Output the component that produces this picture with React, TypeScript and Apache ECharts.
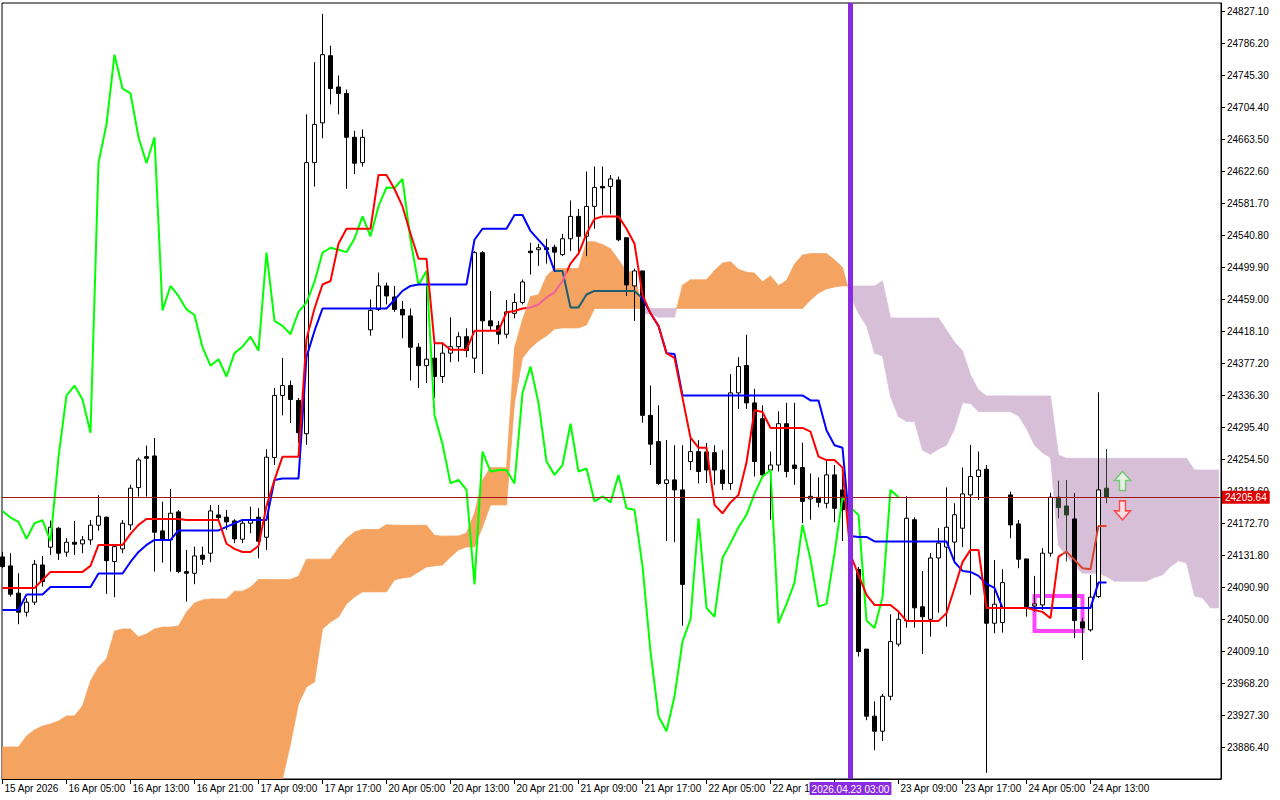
import React, { useEffect, useRef } from 'react';
import * as echarts from 'echarts';

// ---------- data (H1 bars, index 0 = first visible bar) ----------
const openP = [
  24129.3, 24117.9, 24083.0, 24058.7, 24071.5, 24119.1, 24141.8, 24166.0, 24135.4, 24148.1,
  24146.0, 24151.1, 24169.9, 24180.1, 24123.4, 24139.6, 24170.3, 24217.9, 24257.5, 24258.4,
  24162.6, 24151.1, 24186.9, 24110.6, 24108.5, 24131.5, 24134.1, 24183.0, 24180.1, 24175.4,
  24152.0, 24172.4, 24180.1, 24154.5, 24256.3, 24335.8, 24348.4, 24329.4, 24286.8, 24633.3,
  24684.1, 24770.0, 24730.0, 24721.7, 24665.7, 24633.3, 24419.6, 24445.7, 24475.7, 24461.6,
  24445.7, 24437.4, 24397.4, 24373.8, 24383.4, 24359.9, 24389.8, 24398.0, 24410.8, 24383.4,
  24518.2, 24431.1, 24424.7, 24414.0, 24440.7, 24454.6, 24520.2, 24522.0, 24524.5, 24525.2,
  24515.7, 24536.0, 24564.6, 24539.2, 24577.4, 24602.9, 24602.9, 24611.2, 24537.3, 24475.7,
  24494.9, 24310.3, 24276.7, 24223.3, 24227.8, 24215.0, 24251.3, 24263.9, 24263.5, 24262.6,
  24240.4, 24223.3, 24339.0, 24374.0, 24326.2, 24306.0, 24240.4, 24246.8, 24299.6, 24246.8,
  24243.6, 24203.5, 24205.5, 24197.9, 24234.2, 24215.0, 24189.4, 24113.3, 24011.5, 23925.8,
  23906.6, 23951.2, 24017.9, 24047.8, 24176.9, 24065.6, 24049.7, 24128.0, 24141.9, 24148.3,
  24166.0, 24208.6, 24232.1, 24241.4, 24044.6, 24045.4, 24208.6, 24171.5, 24126.8, 24066.7,
  24068.0, 24134.1, 24205.7, 24194.5, 24177.9, 24046.3, 24036.1, 24078.6, 24217.2,
];
const closeP = [
  24117.0, 24081.7, 24058.7, 24071.5, 24120.0, 24097.8, 24167.3, 24134.1, 24148.1, 24145.6,
  24151.1, 24169.9, 24181.4, 24124.6, 24142.5, 24172.4, 24217.2, 24253.3, 24255.5, 24160.9,
  24151.1, 24185.2, 24110.6, 24108.5, 24130.6, 24126.4, 24188.1, 24179.6, 24174.1, 24152.4,
  24172.4, 24176.3, 24149.4, 24256.8, 24335.8, 24348.4, 24330.6, 24288.1, 24633.3, 24682.2,
  24771.3, 24728.0, 24721.7, 24665.7, 24632.6, 24665.7, 24444.5, 24475.7, 24462.9, 24445.7,
  24438.6, 24397.4, 24373.8, 24382.1, 24359.9, 24389.8, 24398.0, 24410.8, 24393.0, 24518.2,
  24431.1, 24424.7, 24414.0, 24442.5, 24454.6, 24480.8, 24518.2, 24524.5, 24522.0, 24518.9,
  24536.0, 24564.6, 24539.2, 24577.4, 24601.6, 24600.9, 24612.4, 24534.7, 24477.0, 24494.9,
  24310.3, 24273.5, 24223.3, 24227.8, 24215.0, 24094.2, 24263.9, 24238.5, 24240.5, 24240.4,
  24223.3, 24339.0, 24372.7, 24326.2, 24251.3, 24234.2, 24246.8, 24299.6, 24238.5, 24242.3,
  24200.4, 24206.8, 24199.1, 24234.2, 24191.5, 24189.6, 24117.9, 24008.3, 23925.8, 23906.6,
  23951.2, 24021.1, 24049.7, 24178.8, 24064.3, 24052.9, 24128.0, 24147.0, 24167.3, 24183.2,
  24209.9, 24232.1, 24240.4, 24044.6, 24068.9, 24096.5, 24170.3, 24126.4, 24065.8, 24069.3,
  24134.1, 24205.7, 24192.4, 24183.0, 24048.0, 24038.6, 24077.9, 24215.0, 24205.64,
];
const lowP = [
  24115.3, 24078.6, 24043.3, 24053.1, 24068.0, 24091.4, 24131.9, 24125.5, 24129.7, 24131.9,
  24134.1, 24144.7, 24163.0, 24082.1, 24077.9, 24134.1, 24163.9, 24206.4, 24206.4, 24110.6,
  24122.1, 24110.6, 24108.5, 24072.2, 24094.5, 24119.1, 24122.6, 24176.6, 24163.9, 24146.9,
  24146.9, 24159.6, 24127.7, 24138.3, 24246.9, 24310.3, 24300.6, 24275.3, 24272.5, 24602.7,
  24664.5, 24707.7, 24695.0, 24599.7, 24618.7, 24628.2, 24412.1, 24443.7, 24452.1, 24442.5,
  24408.9, 24354.8, 24345.3, 24351.7, 24332.6, 24351.7, 24378.3, 24379.0, 24384.7, 24364.5,
  24363.1, 24418.4, 24401.2, 24408.9, 24434.3, 24452.1, 24490.3, 24501.3, 24504.2, 24494.9,
  24513.8, 24520.2, 24517.0, 24513.8, 24548.8, 24566.6, 24567.8, 24532.8, 24462.9, 24431.1,
  24300.9, 24246.8, 24221.4, 24149.6, 24148.3, 24041.4, 24240.4, 24223.3, 24223.9, 24221.4,
  24215.0, 24215.0, 24318.6, 24318.6, 24232.1, 24231.0, 24176.9, 24238.5, 24231.0, 24221.4,
  24172.4, 24176.9, 24192.7, 24191.5, 24173.7, 24149.6, 24112.7, 24002.1, 23920.7, 23882.4,
  23894.0, 23946.1, 24014.7, 24038.9, 24038.9, 24005.3, 24027.5, 24058.0, 24040.2, 24122.8,
  24141.9, 24080.8, 24202.2, 23853.3, 24031.8, 24032.6, 24153.3, 24114.9, 24053.1, 24059.1,
  24061.6, 24129.7, 24178.8, 24123.4, 24025.5, 23997.7, 24033.9, 24077.0, 24198.0,
];
const highP = [
  24135.7, 24134.1, 24108.5, 24076.6, 24125.5, 24130.6, 24175.8, 24167.3, 24153.3, 24175.4,
  24156.2, 24176.6, 24208.2, 24180.9, 24146.0, 24176.6, 24221.4, 24256.3, 24271.6, 24281.4,
  24200.0, 24216.3, 24189.4, 24138.3, 24142.5, 24142.5, 24195.8, 24195.8, 24189.4, 24177.5,
  24176.6, 24193.6, 24191.6, 24267.0, 24345.3, 24383.7, 24354.8, 24332.6, 24695.0, 24761.7,
  24823.4, 24782.7, 24744.6, 24726.7, 24674.0, 24675.8, 24458.4, 24492.8, 24480.0, 24475.7,
  24456.5, 24446.9, 24402.5, 24475.7, 24402.5, 24403.7, 24435.6, 24416.5, 24421.5, 24520.2,
  24520.2, 24469.3, 24431.1, 24457.8, 24466.1, 24483.9, 24530.9, 24529.6, 24536.0, 24528.4,
  24542.4, 24585.0, 24574.1, 24621.9, 24628.3, 24628.3, 24617.4, 24615.5, 24537.3, 24497.9,
  24494.9, 24348.5, 24323.1, 24278.6, 24272.2, 24272.2, 24281.7, 24278.6, 24275.0, 24272.2,
  24265.8, 24363.1, 24384.7, 24413.3, 24344.1, 24323.1, 24263.9, 24315.4, 24326.3, 24326.3,
  24275.4, 24235.9, 24231.0, 24253.2, 24246.8, 24237.2, 24202.2, 24116.6, 24011.5, 23944.8,
  23954.3, 24056.1, 24059.2, 24206.8, 24180.1, 24111.3, 24134.3, 24166.0, 24218.2, 24197.9,
  24243.6, 24272.5, 24263.9, 24246.9, 24125.5, 24113.6, 24212.8, 24176.6, 24126.8, 24105.1,
  24140.5, 24211.5, 24226.9, 24227.8, 24210.8, 24051.4, 24106.4, 24339.8, 24267.4,
];

// Tenkan-sen (red)
const tenkan = [
  24089.7, 24089.7, 24089.7, 24089.7, 24089.7, 24100.0, 24110.2, 24110.2, 24110.2, 24110.2,
  24110.2, 24117.9, 24144.7, 24144.7, 24144.7, 24144.7, 24158.8, 24170.3, 24177.9, 24177.9,
  24177.9, 24177.9, 24177.9, 24176.6, 24176.6, 24176.6, 24176.6, 24176.6, 24146.2, 24139.6,
  24135.7, 24135.7, 24143.4, 24194.5, 24227.8, 24257.5, 24257.5, 24257.5, 24408.0, 24446.9,
  24477.5, 24482.0, 24529.6, 24548.8, 24548.8, 24548.8, 24548.8, 24617.5, 24617.5, 24599.6,
  24577.3, 24542.4, 24510.5, 24510.5, 24402.4, 24402.4, 24394.1, 24394.1, 24394.1, 24418.4,
  24418.4, 24418.4, 24418.4, 24441.9, 24443.7, 24446.9, 24448.2, 24452.0, 24461.0, 24467.4,
  24482.0, 24504.2, 24517.0, 24542.4, 24561.3, 24564.6, 24564.6, 24564.6, 24548.8, 24529.6,
  24464.2, 24440.7, 24424.6, 24389.8, 24383.7, 24332.6, 24281.7, 24268.9, 24268.9, 24195.8,
  24185.1, 24199.0, 24208.6, 24250.0, 24316.7, 24314.7, 24294.2, 24294.2, 24294.2, 24294.2,
  24294.2, 24289.4, 24257.5, 24253.1, 24253.1, 24243.5, 24131.9, 24106.4, 24080.8, 24068.0,
  24068.0, 24068.0, 24059.5, 24047.6, 24047.6, 24047.6, 24047.6, 24047.6, 24057.3, 24089.7,
  24122.7, 24138.3, 24138.3, 24064.2, 24064.2, 24064.2, 24064.2, 24064.2, 24064.2, 24061.6,
  24059.1, 24051.0, 24129.7, 24136.1, 24125.5, 24114.9, 24113.6, 24169.0, 24169.0,
];
// Kijun-sen (blue)
const kijun = [
  24061.6, 24061.6, 24061.6, 24081.4, 24081.4, 24081.4, 24091.0, 24091.0, 24091.0, 24091.0,
  24091.0, 24091.0, 24108.2, 24108.2, 24108.2, 24108.2, 24122.9, 24135.7, 24144.7, 24151.1,
  24151.1, 24151.1, 24163.2, 24163.2, 24163.2, 24163.2, 24163.2, 24163.2, 24167.7, 24172.2,
  24176.6, 24176.6, 24176.6, 24176.6, 24227.8, 24229.5, 24229.5, 24229.5, 24385.0, 24418.2,
  24446.9, 24446.9, 24446.9, 24446.9, 24446.9, 24446.9, 24446.9, 24446.9, 24446.9, 24457.8,
  24469.3, 24475.7, 24477.5, 24477.5, 24477.5, 24477.5, 24477.5, 24477.5, 24477.5, 24534.7,
  24548.8, 24548.8, 24548.8, 24548.8, 24566.4, 24566.4, 24546.0, 24534.5, 24523.2, 24494.9,
  24494.9, 24448.2, 24448.2, 24464.8, 24469.3, 24469.3, 24469.3, 24469.3, 24469.3, 24469.3,
  24459.7, 24440.7, 24424.7, 24389.8, 24388.8, 24335.8, 24335.8, 24335.8, 24335.8, 24335.8,
  24335.8, 24335.8, 24335.8, 24335.8, 24335.8, 24335.8, 24335.8, 24335.8, 24335.8, 24335.8,
  24335.8, 24329.4, 24329.4, 24291.3, 24272.1, 24268.9, 24156.2, 24154.9, 24154.9, 24149.2,
  24149.2, 24149.2, 24149.2, 24149.2, 24149.2, 24149.2, 24149.2, 24149.2, 24149.2, 24122.9,
  24111.5, 24110.2, 24105.1, 24094.8, 24089.7, 24064.2, 24064.2, 24064.2, 24064.2, 24064.2,
  24064.2, 24064.2, 24064.2, 24064.2, 24064.2, 24064.2, 24064.2, 24096.8, 24096.8,
];
// Senkou Span A (already shifted 26 bars forward)
const spanA = [
  23886.5, 23886.5, 23886.5, 23900.5, 23908.2, 23913.3, 23915.9, 23919.7, 23926.1, 23926.1,
  23938.9, 23970.8, 23988.7, 23998.9, 24034.7, 24037.3, 24037.3, 24027.1, 24030.9, 24037.3,
  24039.8, 24039.8, 24041.1, 24059.0, 24070.5, 24074.4, 24075.7, 24075.7, 24075.7, 24085.6,
  24085.6, 24090.7, 24100.6, 24100.6, 24100.6, 24100.6, 24100.6, 24104.5, 24126.5, 24126.5,
  24126.5, 24126.5, 24140.9, 24153.0, 24161.3, 24164.5, 24164.5, 24164.5, 24170.6, 24169.9,
  24169.9, 24169.9, 24169.9, 24169.9, 24157.0, 24155.9, 24156.2, 24156.2, 24160.0, 24185.6,
  24227.8, 24243.5, 24243.5, 24243.5, 24396.5, 24432.6, 24462.2, 24464.5, 24488.3, 24497.9,
  24497.9, 24497.9, 24497.9, 24532.2, 24532.2, 24528.7, 24523.3, 24509.1, 24494.0, 24494.0,
  24440.0, 24440.0, 24435.8, 24435.8, 24435.8, 24476.6, 24483.6, 24483.6, 24483.6, 24495.4,
  24505.1, 24506.7, 24497.1, 24493.3, 24492.1, 24481.2, 24488.5, 24476.2, 24482.6, 24503.6,
  24515.3, 24517.0, 24517.0, 24517.0, 24509.1, 24499.5, 24462.0, 24440.7, 24424.7, 24389.8,
  24386.3, 24334.2, 24308.8, 24302.4, 24302.4, 24265.8, 24260.5, 24267.4, 24272.2, 24292.9,
  24326.3, 24325.3, 24315.0, 24315.0, 24315.0, 24315.0, 24315.0, 24309.4, 24293.5, 24272.2,
  24262.6, 24256.2, 24144.1, 24130.7, 24117.9, 24108.6, 24108.6, 24108.6, 24104.4, 24098.4,
  24098.4, 24098.4, 24098.4, 24098.4, 24103.3, 24106.3, 24117.1, 24124.3, 24121.7, 24079.5,
  24077.0, 24064.2, 24064.2,
];
// Senkou Span B (already shifted 26 bars forward)
const spanB = [
  23818.8, 23818.8, 23818.8, 23818.8, 23818.8, 23818.8, 23818.8, 23818.8, 23818.8, 23818.8,
  23818.8, 23818.8, 23818.8, 23818.8, 23818.8, 23818.8, 23818.8, 23818.8, 23818.8, 23818.8,
  23818.8, 23818.8, 23818.8, 23818.8, 23818.8, 23818.8, 23818.8, 23818.8, 23818.8, 23818.8,
  23818.8, 23818.8, 23818.8, 23818.8, 23818.8, 23831.4, 23890.3, 23941.5, 23963.2, 23969.6,
  24037.3, 24046.2, 24052.6, 24069.3, 24078.2, 24084.6, 24084.6, 24084.6, 24084.6, 24100.0,
  24102.5, 24103.8, 24110.2, 24116.6, 24117.9, 24119.1, 24129.2, 24138.3, 24142.1, 24142.1,
  24167.7, 24195.8, 24195.8, 24195.8, 24326.2, 24383.7, 24396.4, 24405.4, 24411.8, 24420.7,
  24422.0, 24422.0, 24422.0, 24425.8, 24446.9, 24446.9, 24446.9, 24446.9, 24446.9, 24446.9,
  24446.9, 24446.9, 24446.9, 24446.9, 24446.9, 24446.9, 24446.9, 24446.9, 24446.9, 24446.9,
  24446.9, 24446.9, 24446.9, 24446.9, 24446.9, 24446.9, 24446.9, 24446.9, 24446.9, 24446.9,
  24446.9, 24457.8, 24466.7, 24471.8, 24474.4, 24475.7, 24475.7, 24475.7, 24475.7, 24475.7,
  24482.0, 24434.8, 24434.8, 24434.8, 24434.8, 24434.8, 24434.8, 24434.8, 24419.4, 24404.1,
  24392.6, 24361.9, 24342.7, 24335.1, 24335.1, 24335.1, 24335.1, 24335.1, 24335.1, 24335.1,
  24335.1, 24335.1, 24259.7, 24255.4, 24255.4, 24255.4, 24255.4, 24255.4, 24255.4, 24255.4,
  24255.4, 24255.4, 24255.4, 24255.4, 24255.4, 24255.4, 24255.4, 24255.4, 24255.4, 24240.5,
  24240.5, 24240.5, 24240.5,
];
const chikouShift = 26;

const yTicks = [
  23886.4, 23927.3, 23968.2, 24009.1, 24050.0, 24090.9, 24131.8, 24172.7, 24213.6, 24254.5,
  24295.4, 24336.3, 24377.2, 24418.1, 24459.0, 24499.9, 24540.8, 24581.7, 24622.6, 24663.5,
  24704.4, 24745.3, 24786.2, 24827.1,
];
const xTickBars = [0, 8, 16, 24, 32, 40, 48, 56, 64, 72, 80, 88, 96, 104, 112, 120, 128, 136];
const xTickLabels = [
  '15 Apr 2026', '16 Apr 05:00', '16 Apr 13:00', '16 Apr 21:00', '17 Apr 09:00', '17 Apr 17:00',
  '20 Apr 05:00', '20 Apr 13:00', '20 Apr 21:00', '21 Apr 09:00', '21 Apr 17:00', '22 Apr 05:00',
  '22 Apr 13:00', '', '23 Apr 09:00', '23 Apr 17:00', '24 Apr 05:00', '24 Apr 13:00',
];
const bidPrice = 24205.64;
const markerBar = 106;
const markerLabel = '2026.04.23 03:00';
const boxBars = [129, 135];
const boxPrices = [24079.4, 24034.7];
const arrowBar = 140;
const upArrowPrice = 24226.4;
const downArrowPrice = 24188.8;
// bars whose bear bodies sit inside the thistle cloud (drawn tinted there)
const tintedBars = [132, 133, 138];

// ---------- view extents / styles ----------
const X_MIN = -0.0625;
const X_MAX = 152.3125;
const Y_MIN = 23845.5;
const Y_MAX = 24837.33;
const ORANGE = '#F4A460';
const THISTLE = '#D8BFD8';
const TINT = '#274027';
const FONT = "'Liberation Sans', Arial, sans-serif";
const UP_PATH = 'path://M8 0L16 9L11 9L11 19L5 19L5 9L0 9Z';
const DOWN_PATH = 'path://M5 0L11 0L11 10L16 10L8 19L0 10L5 10Z';

export default function App() {
  const ref = useRef<HTMLDivElement>(null);

  useEffect(() => {
    document.body.style.margin = '0';
    const chart = echarts.init(ref.current as HTMLDivElement, null, { renderer: 'svg' });

    const candleData = openP.map((o, k) => {
      const value = [k, o, closeP[k], lowP[k], highP[k]];
      return tintedBars.indexOf(k) >= 0
        ? { value, itemStyle: { color0: TINT, borderColor0: TINT } }
        : { value };
    });
    const cloudData = spanA.slice(0, -1).map((a, k) => [k, a, spanB[k], spanA[k + 1], spanB[k + 1]]);
    const chikouData = closeP.slice(chikouShift).map((v, k) => [k, v]);

    const renderCloud = (params: any, api: any) => {
      const cs = params.coordSys;
      const k = api.value(0);
      const a0 = api.value(1), b0 = api.value(2), a1 = api.value(3), b1 = api.value(4);
      const P = (x: number, y: number) => {
        const p = api.coord([x, y]);
        return [
          Math.max(cs.x, Math.min(cs.x + cs.width, p[0])),
          Math.max(cs.y, Math.min(cs.y + cs.height, p[1])),
        ];
      };
      const poly = (pts: number[][], c: string) => ({
        type: 'polygon',
        shape: { points: pts },
        style: { fill: c, stroke: c, lineWidth: 0.7 },
      });
      const d0 = a0 - b0, d1 = a1 - b1;
      const col = (d: number) => (d >= 0 ? ORANGE : THISTLE);
      const children: any[] = [];
      if (d0 === 0 || d1 === 0 || (d0 > 0) === (d1 > 0)) {
        children.push(poly([P(k, a0), P(k + 1, a1), P(k + 1, b1), P(k, b0)], col(d0 !== 0 ? d0 : d1)));
      } else {
        const t = d0 / (d0 - d1);
        const xc = k + t;
        const yc = a0 + t * (a1 - a0);
        children.push(poly([P(k, a0), P(xc, yc), P(k, b0)], col(d0)));
        children.push(poly([P(xc, yc), P(k + 1, a1), P(k + 1, b1)], col(d1)));
      }
      return { type: 'group', children };
    };

    const option: any = {
      animation: false,
      backgroundColor: '#ffffff',
      textStyle: { fontFamily: FONT },
      grid: {
        left: 2, right: 59, top: 3, bottom: 21,
        show: true, borderColor: '#000', borderWidth: 1, backgroundColor: 'transparent',
      },
      visualMap: [
        {
          type: 'piecewise', show: false, seriesIndex: 4, dimension: 0,
          pieces: [
            { lt: 65.5, color: '#FF0000' },
            { gte: 65.5, lt: 70.5, color: '#F0609C' },
            { gte: 70.5, lt: 132.4, color: '#FF0000' },
            { gte: 132.4, color: '#D8452C' },
          ],
        },
        {
          type: 'piecewise', show: false, seriesIndex: 3, dimension: 0,
          pieces: [
            { lt: 69, color: '#0000FF' },
            { gte: 69, lt: 79.8, color: '#1B5E70' },
            { gte: 79.8, color: '#0000FF' },
          ],
        },
      ],
      xAxis: {
        type: 'value', min: X_MIN, max: X_MAX,
        axisLine: { show: true, onZero: false, lineStyle: { color: '#000', width: 1 } },
        axisTick: { show: true, customValues: xTickBars, length: 5, lineStyle: { color: '#000' } },
        axisLabel: {
          show: true, customValues: xTickBars,
          formatter: (v: number) => {
            const i = xTickBars.indexOf(Math.round(v));
            return i >= 0 ? xTickLabels[i] : '';
          },
          align: 'left', margin: 4, padding: [0, 0, 0, 2],
          color: '#000', fontSize: 10, fontFamily: FONT,
        },
        splitLine: { show: false },
      },
      yAxis: {
        type: 'value', position: 'right', min: Y_MIN, max: Y_MAX, scale: true,
        axisLine: { show: true, onZero: false, lineStyle: { color: '#000', width: 1 } },
        axisTick: { show: true, customValues: yTicks, length: 4, lineStyle: { color: '#000' } },
        axisLabel: {
          show: true, customValues: yTicks,
          formatter: (v: number) => v.toFixed(2),
          margin: 6, color: '#000', fontSize: 10, fontFamily: FONT,
        },
        splitLine: { show: false },
      },
      series: [
        {
          type: 'custom', name: 'cloud', z: 1, clip: true, silent: true,
          renderItem: renderCloud, data: cloudData,
          encode: { x: 0, y: 1 },
        },
        {
          type: 'candlestick', name: 'price', z: 2, silent: true,
          data: candleData, encode: { x: 0, y: [1, 2, 3, 4] },
          barWidth: 4,
          itemStyle: { color: '#ffffff', color0: '#000000', borderColor: '#000000', borderColor0: '#000000', borderWidth: 1 },
        },
        {
          type: 'line', name: 'Chikou', z: 3, silent: true, showSymbol: false, symbol: 'none',
          data: chikouData, lineStyle: { color: '#00FF00', width: 2 },
        },
        {
          type: 'line', name: 'Kijun', z: 3, silent: true, showSymbol: false, symbol: 'none',
          data: kijun.map((v, k) => [k, v]), lineStyle: { width: 2 },
        },
        {
          type: 'line', name: 'Tenkan', z: 3, silent: true, showSymbol: false, symbol: 'none',
          data: tenkan.map((v, k) => [k, v]), lineStyle: { width: 2 },
        },
        {
          type: 'line', name: 'overlay', z: 5, silent: true, data: [],
          markLine: {
            silent: true, symbol: ['none', 'none'], animation: false,
            data: [
              {
                yAxis: bidPrice,
                lineStyle: { color: '#a01818', width: 1, type: 'solid' },
                label: {
                  show: true, position: 'end', distance: 1, formatter: bidPrice.toFixed(2),
                  color: '#fff', backgroundColor: '#dd0000', padding: [2, 3, 1, 3],
                  fontSize: 10, fontFamily: FONT,
                },
              },
              {
                xAxis: markerBar,
                lineStyle: { color: '#8A2BE2', width: 5, type: 'solid' },
                label: {
                  show: true, position: 'start', distance: 3, formatter: markerLabel,
                  color: '#fff', backgroundColor: '#8A2BE2', padding: [2, 2, 1, 2],
                  fontSize: 10, fontFamily: FONT,
                },
              },
            ],
          },
          markArea: {
            silent: true,
            itemStyle: { color: 'rgba(0,0,0,0)', borderColor: '#FF44FF', borderWidth: 4 },
            data: [[{ coord: [boxBars[0], boxPrices[0]] }, { coord: [boxBars[1], boxPrices[1]] }]],
          },
        },
        {
          type: 'scatter', name: 'signals', z: 6, silent: true,
          data: [
            {
              value: [arrowBar, upArrowPrice], symbol: UP_PATH, symbolSize: [16, 19],
              itemStyle: { color: '#effcec', borderColor: '#55c855', borderWidth: 1.5 },
            },
            {
              value: [arrowBar, downArrowPrice], symbol: DOWN_PATH, symbolSize: [16, 19],
              itemStyle: { color: '#ffe6e6', borderColor: '#ff2a2a', borderWidth: 1.5 },
            },
          ],
        },
      ],
    };

    chart.setOption(option);
    return () => chart.dispose();
  }, []);

  return (
    <div
      ref={ref}
      style={{ position: 'absolute', left: 0, top: 0, width: 1280, height: 800, background: '#fff' }}
    />
  );
}
